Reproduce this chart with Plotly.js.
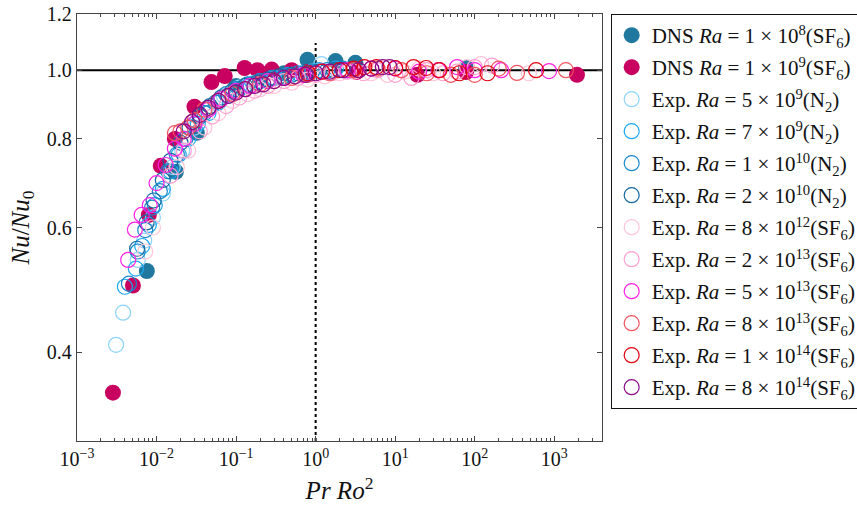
<!DOCTYPE html>
<html>
<head>
<meta charset="utf-8">
<script src="https://cdn.plot.ly/plotly-3.0.1.min.js"></script>
<style>html,body{margin:0;padding:0;background:#fff;}#chart{width:857px;height:507px;}</style>
</head>
<body>
<div id="chart"></div>
<script>
// ---- data ----
const seriesNames = [
  "DNS <i>Ra</i> = 1 × 10<sup>8</sup>(SF<sub>6</sub>)",
  "DNS <i>Ra</i> = 1 × 10<sup>9</sup>(SF<sub>6</sub>)",
  "Exp. <i>Ra</i> = 5 × 10<sup>9</sup>(N<sub>2</sub>)",
  "Exp. <i>Ra</i> = 7 × 10<sup>9</sup>(N<sub>2</sub>)",
  "Exp. <i>Ra</i> = 1 × 10<sup>10</sup>(N<sub>2</sub>)",
  "Exp. <i>Ra</i> = 2 × 10<sup>10</sup>(N<sub>2</sub>)",
  "Exp. <i>Ra</i> = 8 × 10<sup>12</sup>(SF<sub>6</sub>)",
  "Exp. <i>Ra</i> = 2 × 10<sup>13</sup>(SF<sub>6</sub>)",
  "Exp. <i>Ra</i> = 5 × 10<sup>13</sup>(SF<sub>6</sub>)",
  "Exp. <i>Ra</i> = 8 × 10<sup>13</sup>(SF<sub>6</sub>)",
  "Exp. <i>Ra</i> = 1 × 10<sup>14</sup>(SF<sub>6</sub>)",
  "Exp. <i>Ra</i> = 8 × 10<sup>14</sup>(SF<sub>6</sub>)"
];
const seriesColors = ["#21789e","#c8005f","#8fd3fa","#1aa8f0","#1a88c9","#17689e",
  "#ffc4d6","#ff9fd0","#ff1ee3","#f0545e","#e0000f","#8a0a86"];

const dns1e8_x = [0.00755,0.0175,0.0321,0.10,0.2,0.4,0.79,1.78,3.16,78];
const dns1e8_y = [0.521,0.719,0.816,0.95,0.975,0.99,1.034,1.03,1.024,1.007];

const dns1e9_x = [0.00283,0.00505,0.008,0.0113,0.017,0.030,0.049,0.072,0.128,0.186,0.28,0.50,0.79,3.26,19,78,1930];
const dns1e9_y = [0.351,0.497,0.625,0.733,0.80,0.888,0.962,0.981,1.007,1.0,1.002,1.0,0.994,0.994,0.985,0.994,0.985];

const n2_5e9_x = [0.0031,0.0038,0.0058,0.007,0.009,0.012,0.016,0.021,0.03,0.045,0.07,0.11,0.17,0.3,0.5,0.9,1.18,2.5];
const n2_5e9_y = [0.41,0.455,0.54,0.575,0.62,0.67,0.73,0.77,0.83,0.88,0.92,0.945,0.96,0.975,0.985,0.995,1.02,0.998];

const n2_7e9_x = [0.004,0.0055,0.0066,0.008,0.0095,0.012,0.015,0.019,0.025,0.033,0.045,0.06,0.08,0.11,0.15,0.2,0.3,0.45,0.7,1.1,1.8];
const n2_7e9_y = [0.495,0.525,0.565,0.605,0.645,0.68,0.72,0.76,0.80,0.84,0.87,0.90,0.92,0.94,0.955,0.965,0.975,0.985,0.99,1.0,1.005];

const n2_1e10_x = [0.0045,0.0058,0.0072,0.0088,0.011,0.014,0.018,0.023,0.03,0.04,0.055,0.075,0.1,0.14,0.2,0.28,0.4,0.6,0.9,1.4,2.2];
const n2_1e10_y = [0.50,0.555,0.595,0.64,0.675,0.72,0.76,0.80,0.84,0.87,0.90,0.925,0.94,0.955,0.965,0.975,0.98,0.99,0.995,1.0,1.005];

const n2_2e10_x = [0.0057,0.0075,0.0092,0.012,0.015,0.02,0.026,0.035,0.047,0.065,0.09,0.13,0.18,0.25,0.35,0.5,0.75,1.1,1.7];
const n2_2e10_y = [0.56,0.61,0.655,0.70,0.745,0.79,0.83,0.86,0.89,0.915,0.935,0.95,0.96,0.97,0.98,0.985,0.99,0.995,1.0];

const sf6_8e12_x = [0.0072,0.009,0.018,0.025,0.04,0.06,0.09,0.14,0.2,0.3,0.5,0.8,1.3,2,3,5,8,13,20,30,50,80,120,480];
const sf6_8e12_y = [0.555,0.60,0.73,0.77,0.83,0.87,0.905,0.925,0.94,0.95,0.96,0.97,0.98,0.99,0.995,0.99,0.985,0.995,1.005,0.99,0.985,1.01,1.02,0.99];

const sf6_2e13_x = [0.015,0.022,0.035,0.05,0.075,0.11,0.17,0.25,0.4,0.6,1,1.6,2.5,4,6,10,16,25,40,60,100,165];
const sf6_2e13_y = [0.71,0.77,0.82,0.86,0.89,0.915,0.935,0.95,0.965,0.975,0.985,0.99,0.995,0.99,1.0,0.985,0.975,1.0,0.99,0.995,1.01,1.015];

const sf6_5e13_x = [0.0044,0.00534,0.0065,0.00822,0.01,0.013,0.017,0.022,0.03,0.045,0.065,0.1,0.15,0.25,0.4,0.7,1.2,2.5,5,10,20,35,60,100,215,860];
const sf6_5e13_y = [0.54,0.596,0.625,0.645,0.693,0.735,0.775,0.80,0.84,0.88,0.91,0.935,0.95,0.965,0.975,0.985,0.995,1.0,1.005,1.005,0.995,1.0,1.01,1.0,1.0,0.997];

const sf6_8e13_x = [0.017,0.02,0.025,0.03,0.04,0.06,0.09,0.13,0.2,0.3,0.5,0.8,1.5,3,6,12,25,50,100,200,340,1400];
const sf6_8e13_y = [0.815,0.82,0.83,0.85,0.88,0.905,0.925,0.94,0.955,0.965,0.975,0.985,0.99,1.0,1.005,1.0,0.99,0.985,0.985,1.005,0.991,1.0];

const sf6_1e14_x = [0.8,1.2,2,3,4.1,5.8,10,17,24.5,36,64,145,590];
const sf6_1e14_y = [0.99,0.995,1.0,1.005,1.01,1.01,1.007,1.01,1.007,1.0,0.99,0.99,1.0];

const sf6_8e14_x = [0.022,0.028,0.035,0.045,0.06,0.08,0.1,0.13,0.17,0.22,0.3,0.4,0.55,0.75,1.0,1.5,2.2,3.5,5,7,8.5];
const sf6_8e14_y = [0.82,0.845,0.865,0.885,0.905,0.92,0.93,0.94,0.95,0.955,0.965,0.975,0.98,0.985,0.99,0.995,1.0,1.0,1.005,1.01,1.01];

const xs = [dns1e8_x,dns1e9_x,n2_5e9_x,n2_7e9_x,n2_1e10_x,n2_2e10_x,sf6_8e12_x,sf6_2e13_x,sf6_5e13_x,sf6_8e13_x,sf6_1e14_x,sf6_8e14_x];
const ys = [dns1e8_y,dns1e9_y,n2_5e9_y,n2_7e9_y,n2_1e10_y,n2_2e10_y,sf6_8e12_y,sf6_2e13_y,sf6_5e13_y,sf6_8e13_y,sf6_1e14_y,sf6_8e14_y];

const xTickVals = [0.001,0.01,0.1,1,10,100,1000];
const xTickText = ["10<sup>−3</sup>","10<sup>−2</sup>","10<sup>−1</sup>","10<sup>0</sup>","10<sup>1</sup>","10<sup>2</sup>","10<sup>3</sup>"];
const yTickVals = [0.4,0.6,0.8,1.0,1.2];
const yTickText = ["0.4","0.6","0.8","1.0","1.2"];

const traces = seriesNames.map((name,i) => {
  const filled = i < 2;
  return {
    type: "scatter", mode: "markers", name: name,
    x: xs[i], y: ys[i], legendgroup: "g"+i,
    marker: filled
      ? {symbol: "circle", size: 16, color: seriesColors[i], line: {width: 0}}
      : {symbol: "circle-open", size: 15, color: seriesColors[i], line: {width: 1.2, color: seriesColors[i]}}
  };
});

const FONT = '"Liberation Serif", "DejaVu Serif", serif';
const layout = {
  width: 857, height: 507,
  paper_bgcolor: "#fff", plot_bgcolor: "#fff",
  margin: {l: 77, r: 255, t: 14, b: 66, autoexpand: false},
  font: {family: FONT, size: 20, color: "#111"},
  showlegend: true,
  legend: {
    x: 1.0165, xanchor: "left", y: 1, yanchor: "top",
    bordercolor: "#111", borderwidth: 1, bgcolor: "#fff",
    font: {family: FONT, size: 21, color: "#111"},
    tracegroupgap: 1.7, itemwidth: 30
  },
  xaxis: {
    type: "log", range: [-3, 3.6], tickmode: "array", tickvals: xTickVals, ticktext: xTickText,
    showgrid: false, zeroline: false,
    showline: true, linecolor: "#444", linewidth: 1.3, mirror: "ticks",
    ticks: "inside", ticklen: 5, tickcolor: "#444",
    minor: {ticks: "inside", ticklen: 3, tickcolor: "#444", dtick: "D1", showgrid: false},
    tickfont: {family: FONT, size: 20, color: "#111"},
    title: {text: "<i>Pr Ro</i><sup>2</sup>", font: {family: FONT, size: 25, color: "#111"}, standoff: 12}
  },
  yaxis: {
    type: "log", range: [Math.log10(0.3), Math.log10(1.2)],
    tickmode: "array", tickvals: yTickVals, ticktext: yTickText,
    showgrid: false, zeroline: false,
    showline: true, linecolor: "#444", linewidth: 1.3, mirror: "ticks",
    ticks: "inside", ticklen: 5, tickcolor: "#444",
    tickfont: {family: FONT, size: 20, color: "#111"},
    title: {text: "<i>Nu</i>/<i>Nu</i><sub>0</sub>", font: {family: FONT, size: 25, color: "#111"}, standoff: 10}
  },
  shapes: [
    {type: "line", xref: "paper", yref: "y", x0: 0, x1: 1, y0: 1, y1: 1,
     line: {color: "#000", width: 2}, layer: "below"},
    {type: "line", xref: "x", yref: "y", x0: 1, x1: 1, y0: 0.3, y1: 1.092,
     line: {color: "#000", width: 2, dash: "3px,3px"}, layer: "below"}
  ]
};

Plotly.newPlot("chart", traces, layout, {displayModeBar: false, staticPlot: true});
</script>
</body>
</html>
